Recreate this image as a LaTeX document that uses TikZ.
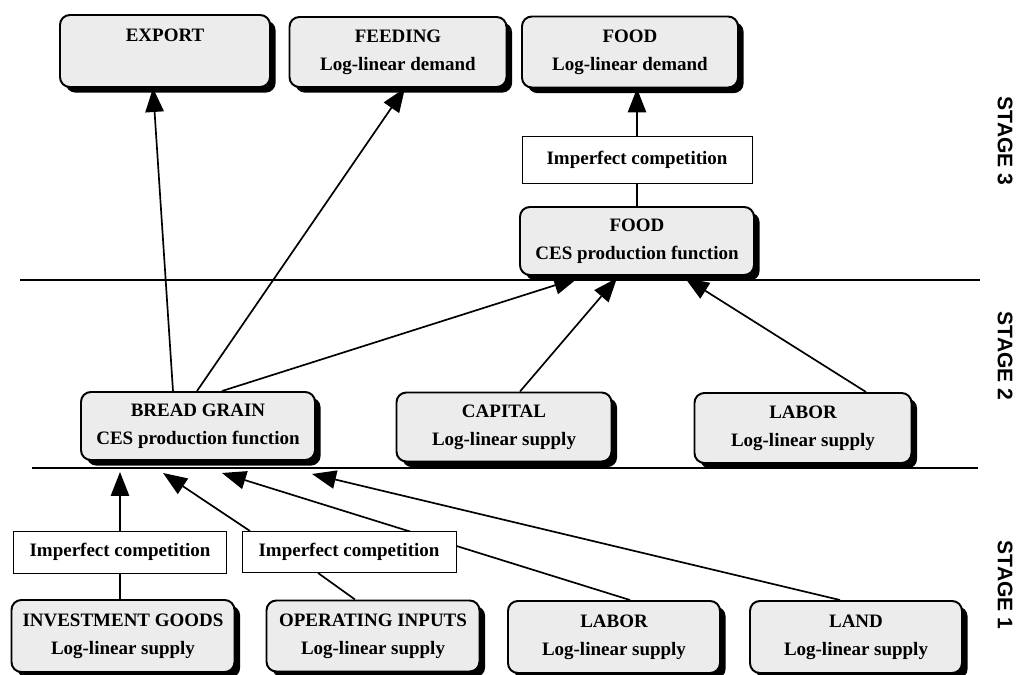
\documentclass[tikz,border=0pt]{standalone}
\usepackage{fontspec}
\setmainfont{Liberation Serif}
\setsansfont{Liberation Sans}
\usetikzlibrary{arrows.meta,shadows,backgrounds,calc}
\newcommand{\lw}{1.4pt}
\newcommand{\px}{0.025cm}

\begin{document}
\begin{tikzpicture}[x=\px, y=\px,
  box/.style={draw, line width=\lw, rounded corners=7pt, fill=gray!15, align=center,
    inner sep=0pt, font=\bfseries\fontsize{13.5}{20}\selectfont,
    drop shadow={shadow xshift=4pt, shadow yshift=-4pt, fill=black, opacity=1}},
  compbox/.style={draw, line width=0.7pt, fill=white, align=center, inner sep=0pt,
    font=\bfseries\fontsize{13.5}{20}\selectfont},
  stage/.style={rotate=-90, font=\sffamily\bfseries\fontsize{15}{18}\selectfont},
  link/.style={line width=1.2pt},
  arr/.style={link, -{Triangle[length=6mm, width=4.6mm]}}]
  \useasboundingbox (0,0) rectangle (1017,675);

  % stage 3
  \node[box, minimum width=210*\px, minimum height=72*\px] (export)  at (165,624) {EXPORT\\\phantom{Log-linear}};
  \node[box, minimum width=217*\px, minimum height=70*\px] (feeding) at (398,623) {FEEDING\\Log-linear demand};
  \node[box, minimum width=216*\px, minimum height=71*\px] (fooddem) at (630,623) {FOOD\\Log-linear demand};
  \node[compbox, minimum width=230*\px, minimum height=47*\px] (comptop) at (637,515) {Imperfect competition};
  \node[box, minimum width=234*\px, minimum height=68*\px] (foodces) at (637,434) {FOOD\\CES production function};

  % stage 2
  \node[box, minimum width=234*\px, minimum height=68*\px] (bread)   at (198,249) {BREAD GRAIN\\CES production function};
  \node[box, minimum width=215*\px, minimum height=69*\px] (capital) at (504,248) {CAPITAL\\Log-linear supply};
  \node[box, minimum width=217*\px, minimum height=70*\px] (labtwo)  at (803,247) {LABOR\\Log-linear supply};

  % stage 1
  \node[compbox, minimum width=213*\px, minimum height=42*\px] (compone) at (120,123) {Imperfect competition};
  \node[compbox, minimum width=214*\px, minimum height=41*\px] (comptwo) at (349,123) {Imperfect competition};
  \node[box, minimum width=223*\px, minimum height=72*\px] (invest)  at (123,39) {INVESTMENT GOODS\\Log-linear supply};
  \node[box, minimum width=213*\px, minimum height=71*\px] (operate) at (373,39) {OPERATING INPUTS\\Log-linear supply};
  \node[box, minimum width=212*\px, minimum height=72*\px] (labone)  at (614,38) {LABOR\\Log-linear supply};
  \node[box, minimum width=212*\px, minimum height=72*\px] (land)    at (856,38) {LAND\\Log-linear supply};

  \node[stage] (stthree) at (1005,534) {STAGE 3};
  \node[stage] (sttwo)   at (1005,319) {STAGE 2};
  \node[stage] (stone)   at (1005,90)  {STAGE 1};

  \begin{pgfonlayer}{background}
    \draw[line width=0.8pt] (20,395) -- (980,395);
    \draw[line width=0.8pt] (32,207) -- (978,207);

    \draw[arr] ($(bread.north)+(-25,0)$) -- ($(export.south)+(-12,0)$);
    \draw[arr] ($(bread.north)+(-1,0)$)  -- ($(feeding.south)+(7,0)$);
    \draw[arr] ($(bread.north)+(24,0)$)  -- ($(foodces.south)+(-59,-2)$);
    \draw[arr] ($(capital.north)+(16,0)$) -- ($(foodces.south)+(-20,-2)$);
    \draw[arr] ($(labtwo.north)+(63,0)$) -- ($(foodces.south)+(48,-2)$);
    \draw[link] (foodces.north) -- (comptop.south);
    \draw[arr] (comptop.north) -- ($(fooddem.south)+(7,0)$);

    \draw[arr] (compone.north) -- ($(bread.south)+(-78,-11)$);
    \draw[link] ($(invest.north)+(-3,0)$) -- (compone.south);
    \draw[arr] ($(comptwo.north)+(-99,0)$) -- ($(bread.south)+(-35,-12)$);
    \draw[link] ($(operate.north)+(-18,0)$) -- ($(comptwo.south)+(-31,0)$);
    \draw[arr] ($(labone.north)+(16,0)$) -- ($(bread.south)+(24,-12)$);
    \draw[arr] ($(land.north)+(-16,0)$) -- ($(bread.south)+(114,-13)$);
  \end{pgfonlayer}
\end{tikzpicture}
\end{document}
